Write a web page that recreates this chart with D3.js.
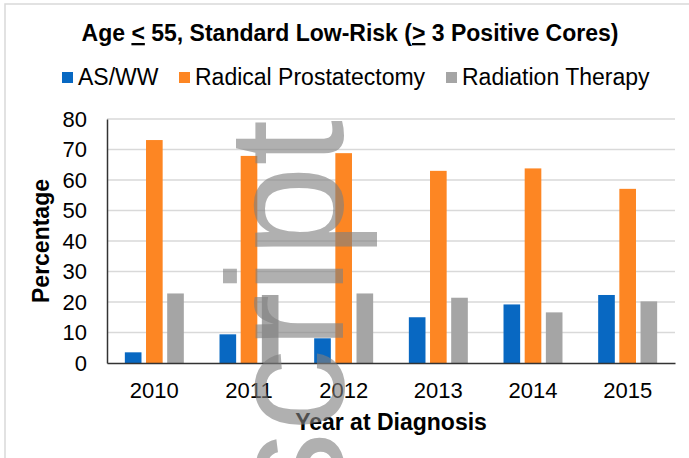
<!DOCTYPE html>
<html>
<head>
<meta charset="utf-8">
<script src="https://cdnjs.cloudflare.com/ajax/libs/d3/7.8.5/d3.min.js"></script>
<style>
  body { margin: 0; background: #fff; }
  text { font-family: "Liberation Sans", Arial, sans-serif; }
</style>
</head>
<body>
<svg id="chart" width="689" height="458"></svg>
<script>
var years = ["2010", "2011", "2012", "2013", "2014", "2015"];
var seriesNames = ["AS/WW", "Radical Prostatectomy", "Radiation Therapy"];
var seriesColors = ["#0868c2", "#fd8623", "#a5a5a5"];
var asww = [3.5, 9.4, 8.1, 15.0, 19.2, 22.3];
var prostatectomy = [73.1, 67.9, 68.8, 63.0, 63.8, 57.1];
var radiation = [22.8, 22.3, 22.8, 21.4, 16.6, 20.2];
var yTicks = [0, 10, 20, 30, 40, 50, 60, 70, 80];

var svg = d3.select("#chart"),
    margin = {top: 119, right: 14, bottom: 95, left: 107},
    width = 689 - margin.left - margin.right,
    height = 458 - margin.top - margin.bottom;

// light frame round the figure
svg.append("rect")
    .attr("x", 5).attr("y", 4)
    .attr("width", 700).attr("height", 470)
    .attr("fill", "none")
    .attr("stroke", "#d9d9d9")
    .attr("stroke-width", 1.5);

var data = years.map(function(y, i) {
  return {year: y, values: [asww[i], prostatectomy[i], radiation[i]]};
});

var x0 = d3.scaleBand().domain(years).range([0, width]).paddingInner(0.377).paddingOuter(0.1885),
    x1 = d3.scaleBand().domain(d3.range(3)).range([0, x0.bandwidth()]).paddingInner(0.214),
    y = d3.scaleLinear().domain([0, 80]).range([height, 0]);

var g = svg.append("g").attr("transform", "translate(" + margin.left + "," + margin.top + ")");

// gridlines
g.selectAll(".grid")
  .data(yTicks.slice(1))
  .enter().append("line")
    .attr("x1", 0).attr("x2", width)
    .attr("y1", function(d) { return y(d); })
    .attr("y2", function(d) { return y(d); })
    .attr("stroke", "#d9d9d9")
    .attr("stroke-width", 1.5);

// bars
var grp = g.selectAll(".year")
  .data(data)
  .enter().append("g")
    .attr("transform", function(d) { return "translate(" + x0(d.year) + ",0)"; });

grp.selectAll("rect")
  .data(function(d) { return d.values; })
  .enter().append("rect")
    .attr("x", function(d, i) { return x1(i); })
    .attr("y", function(d) { return y(d); })
    .attr("width", x1.bandwidth())
    .attr("height", function(d) { return height - y(d); })
    .attr("fill", function(d, i) { return seriesColors[i]; });

// axes
var yAxis = g.append("g")
    .call(d3.axisLeft(y).tickValues(yTicks).tickSize(0).tickPadding(20));
yAxis.select(".domain").attr("stroke", "#333").attr("stroke-width", 1.5);
yAxis.selectAll("text").style("font-size", "22px").attr("fill", "#000")
    .style("font-family", "'Liberation Sans', Arial, sans-serif");

var xAxis = g.append("g")
    .attr("transform", "translate(0," + height + ")")
    .call(d3.axisBottom(x0).tickSize(0).tickPadding(19));
xAxis.select(".domain").attr("stroke", "#333").attr("stroke-width", 1.5);
xAxis.selectAll("text").style("font-size", "22px").attr("fill", "#000")
    .style("font-family", "'Liberation Sans', Arial, sans-serif");

// axis titles
svg.append("text")
    .attr("x", 391)
    .attr("y", 430)
    .attr("text-anchor", "middle")
    .style("font-size", "23px").style("font-weight", "bold")
    .text("Year at Diagnosis");

svg.append("text")
    .attr("transform", "translate(49," + (margin.top + height / 2) + ") rotate(-90)")
    .attr("text-anchor", "middle")
    .style("font-size", "23px").style("font-weight", "bold")
    .text("Percentage");

// title
var title = svg.append("text")
    .attr("x", 350)
    .attr("y", 41)
    .attr("text-anchor", "middle")
    .style("font-size", "23px").style("font-weight", "bold");
title.append("tspan").text("Age ");
title.append("tspan").style("text-decoration", "underline").text("<");
title.append("tspan").text(" 55, Standard Low-Risk (");
title.append("tspan").style("text-decoration", "underline").text(">");
title.append("tspan").text(" 3 Positive Cores)");

// legend
var legendX = [62, 179, 446];
var legend = svg.selectAll(".legend")
  .data(seriesNames)
  .enter().append("g")
    .attr("transform", function(d, i) { return "translate(" + legendX[i] + ",72)"; });
legend.append("rect")
    .attr("width", 11).attr("height", 11)
    .attr("fill", function(d, i) { return seriesColors[i]; });
legend.append("text")
    .attr("x", 16).attr("y", 13)
    .style("font-size", "23px")
    .text(function(d) { return d; });

// watermark
svg.append("text")
    .attr("transform", "translate(343,120) rotate(-90)")
    .attr("text-anchor", "end")
    .style("font-size", "165px")
    .attr("fill", "#808080")
    .attr("fill-opacity", 0.62)
    .text("script");
</script>
</body>
</html>
